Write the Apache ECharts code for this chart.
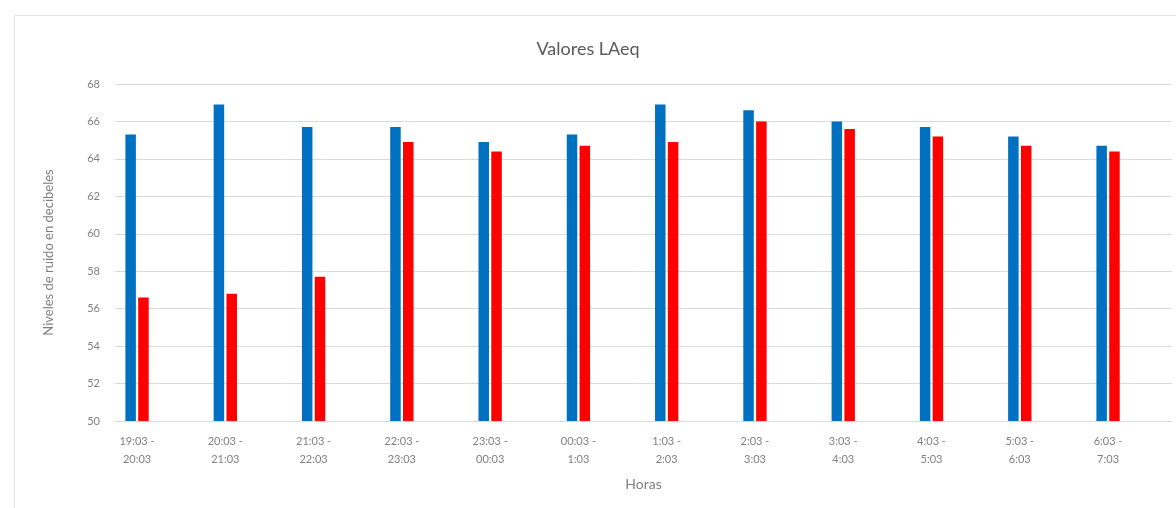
<!DOCTYPE html>
<html>
<head>
<meta charset="utf-8">
<title>Valores LAeq</title>
<script src="https://cdn.jsdelivr.net/npm/echarts@6/dist/echarts.min.js"></script>
<style>
  html, body { margin: 0; padding: 0; background: #ffffff; }
  #chart { width: 1176px; height: 508px; }
</style>
</head>
<body>
<div id="chart"></div>
<script>
// Hourly intervals of the measurement night
const horas = [
  '19:03 - 20:03', '20:03 - 21:03', '21:03 - 22:03', '22:03 - 23:03',
  '23:03 - 00:03', '00:03 - 1:03', '1:03 - 2:03', '2:03 - 3:03',
  '3:03 - 4:03', '4:03 - 5:03', '5:03 - 6:03', '6:03 - 7:03'
];
// LAeq per hour, two measurement points (dB)
const laeqAzul = [65.3, 66.9, 65.7, 65.7, 64.9, 65.3, 66.9, 66.6, 66.0, 65.7, 65.2, 64.7];
const laeqRojo = [56.6, 56.8, 57.7, 64.9, 64.4, 64.7, 64.9, 66.0, 65.6, 65.2, 64.7, 64.4];
// Value axis range and step
const yMin = 50, yMax = 68, yStep = 2;

const FONT = 'Lato, "Liberation Sans", sans-serif';
const GREY = '#7f7f7f';
const LINE = '#d9d9d9';

const chart = echarts.init(document.getElementById('chart'), null, { renderer: 'canvas' });

chart.setOption({
  backgroundColor: '#ffffff',
  animation: false,
  title: {
    text: 'Valores LAeq',
    left: 'center', top: 35,
    textStyle: { fontFamily: FONT, fontSize: 18, fontWeight: 'normal', color: '#595959' }
  },
  graphic: [
    { type: 'line', silent: true, shape: { x1: 14.5, y1: 15.5, x2: 1176, y2: 15.5 }, style: { stroke: '#e3e3e3', lineWidth: 1 } },
    { type: 'line', silent: true, shape: { x1: 14.5, y1: 15.5, x2: 14.5, y2: 508 }, style: { stroke: '#e3e3e3', lineWidth: 1 } }
  ],
  grid: [
    // bars and category labels
    { left: 92.9, right: 23.8, top: 84, bottom: 87, containLabel: false },
    // gridlines, value labels and axis titles
    { left: 115, right: 4, top: 84, bottom: 87, containLabel: false }
  ],
  xAxis: [
    {
      type: 'category', gridIndex: 0, data: horas,
      axisLine: { show: false }, axisTick: { show: false },
      axisLabel: {
        interval: 0, margin: 11, lineHeight: 18,
        fontFamily: FONT, fontSize: 11, color: GREY,
        formatter: v => v.replace(' - ', ' -\n')
      }
    },
    {
      type: 'value', gridIndex: 1, min: 0, max: 1,
      axisLine: { show: true, lineStyle: { color: LINE } },
      axisTick: { show: false }, axisLabel: { show: false }, splitLine: { show: false },
      name: 'Horas', nameLocation: 'middle', nameGap: 56,
      nameTextStyle: { fontFamily: FONT, fontSize: 14, color: GREY }
    }
  ],
  yAxis: [
    { type: 'value', gridIndex: 0, min: yMin, max: yMax, interval: yStep, show: false, splitLine: { show: false } },
    {
      type: 'value', gridIndex: 1, min: yMin, max: yMax, interval: yStep,
      axisLine: { show: false }, axisTick: { show: false },
      axisLabel: { margin: 15, fontFamily: FONT, fontSize: 11, color: GREY },
      splitLine: { show: true, lineStyle: { color: LINE, width: 1 } },
      name: 'Niveles de ruido en decibeles', nameLocation: 'middle', nameGap: 60,
      nameTextStyle: { fontFamily: FONT, fontSize: 13, color: GREY }
    }
  ],
  series: [
    {
      type: 'bar', name: 'Punto 1', xAxisIndex: 0, yAxisIndex: 0,
      data: laeqAzul, barWidth: 10.5, barGap: '22%',
      itemStyle: { color: '#0070C0' }
    },
    {
      type: 'bar', name: 'Punto 2', xAxisIndex: 0, yAxisIndex: 0,
      data: laeqRojo, barWidth: 10.5, barGap: '22%',
      itemStyle: { color: '#FF0000' }
    }
  ]
});
</script>
</body>
</html>
